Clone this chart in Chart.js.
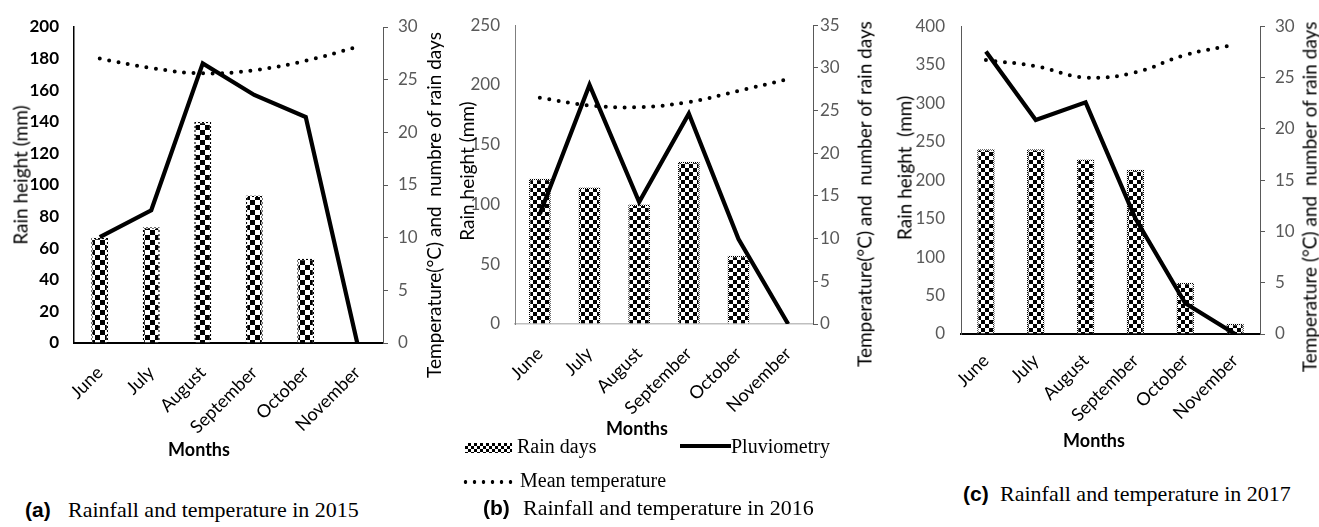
<!DOCTYPE html>
<html><head><meta charset="utf-8">
<script src="https://cdn.jsdelivr.net/npm/chart.js@4.4.1/dist/chart.umd.min.js"></script>
<style>
html,body{margin:0;padding:0;background:#fff;}
#wrap{position:relative;width:1319px;height:527px;overflow:hidden;background:#fff;}
#wrap canvas{position:absolute;top:0;}
.t{position:absolute;white-space:nowrap;font-family:Lato,'Noto Sans',sans-serif;font-size:19px;color:#000;line-height:1;}
.rot{transform:translate(-50%,-50%) rotate(-90deg);}
.ctr{transform:translate(-50%,-50%);}
.b{font-weight:bold;font-size:18px;}
.cap{position:absolute;white-space:nowrap;font-family:'Liberation Serif',serif;font-size:22px;color:#000;line-height:1;}
.lbl{position:absolute;white-space:nowrap;font-family:'Liberation Sans',sans-serif;font-weight:bold;font-size:21px;color:#000;line-height:1;}
.leg{position:absolute;white-space:nowrap;font-family:'Liberation Serif',serif;font-size:20px;color:#000;line-height:1;}
.sw{position:absolute;}
</style></head>
<body>
<div id="wrap">
  <canvas id="ca" width="445" height="470" style="left:0px"></canvas>
  <canvas id="cb" width="440" height="470" style="left:445px"></canvas>
  <canvas id="cc" width="434" height="470" style="left:885px"></canvas>

  <div class="t rot" style="left:20px;top:175px">Rain height (mm)</div>
  <div class="t rot" style="left:433px;top:205px">Temperature(°C) and&nbsp; numbre of rain days</div>
  <div class="t ctr b" style="left:199px;top:449px">Months</div>
  <div class="lbl" style="left:25px;top:499px">(a)</div>
  <div class="cap" style="left:68px;top:499px">Rainfall and temperature in 2015</div>

  <div class="t rot" style="left:466px;top:171px">Rain height (mm)</div>
  <div class="t rot" style="left:864px;top:194px">Temperature(°C) and&nbsp; number of rain days</div>
  <div class="t ctr b" style="left:637px;top:428px">Months</div>
  <div class="sw" style="left:465px;top:443px;width:47px;height:10px;background-image:repeating-conic-gradient(#000 0% 25%, #fff 0% 50%);background-size:6px 6px;"></div>
  <div class="leg" style="left:517px;top:436px">Rain days</div>
  <div class="sw" style="left:680px;top:444px;width:51px;height:4px;background:#000;"></div>
  <div class="leg" style="left:731px;top:436px">Pluviometry</div>
  <div class="sw" style="left:461px;top:480px;width:54px;height:4px;background:radial-gradient(circle, #000 1.6px, rgba(0,0,0,0) 2.1px) 0 0/9px 4px repeat-x;"></div>
  <div class="leg" style="left:520px;top:470px">Mean temperature</div>
  <div class="lbl" style="left:483px;top:497px">(b)</div>
  <div class="cap" style="left:523px;top:497px">Rainfall and temperature in 2016</div>

  <div class="t rot" style="left:904px;top:168px">Rain height&nbsp; (mm)</div>
  <div class="t rot" style="left:1309px;top:197px">Temperature (°C) and&nbsp; number of rain days</div>
  <div class="t ctr b" style="left:1094px;top:440px">Months</div>
  <div class="lbl" style="left:963px;top:483px">(c)</div>
  <div class="cap" style="left:1000px;top:483px">Rainfall and temperature in 2017</div>
</div>
<script>
// ---- data ----
const months = ['June', 'July', 'August', 'September', 'October', 'November'];

const rainDays2015 = [10, 11, 21, 14, 8, 0];
const pluvio2015   = [67, 84, 177, 157, 143, 0];
const temp2015     = [27.0, 26.1, 25.6, 25.9, 26.8, 28.1];

const rainDays2016 = [17, 16, 14, 19, 8, 0];
const pluvio2016   = [92, 200, 102, 176, 71, 0];
const temp2016     = [26.5, 25.6, 25.4, 26.0, 27.3, 28.7];

const rainDays2017 = [18, 18, 17, 16, 5, 1];
const pluvio2017   = [367, 278, 301, 150, 40, 0];
const temp2017     = [26.7, 26.1, 25.0, 25.5, 27.2, 28.2];

const leftTicks2015 = {max: 200, step: 20};
const leftTicks2016 = {max: 250, step: 50};
const leftTicks2017 = {max: 400, step: 50};
const rightTicks2015 = {max: 30, step: 5};
const rightTicks2016 = {max: 35, step: 5};
const rightTicks2017 = {max: 30, step: 5};

Chart.defaults.font.family = "Lato, 'Noto Sans', sans-serif";
Chart.defaults.font.size = 17;

function checker(ctx, cell) {
  const c = document.createElement('canvas');
  c.width = c.height = cell * 2;
  const x = c.getContext('2d');
  x.fillStyle = '#fff'; x.fillRect(0, 0, cell * 2, cell * 2);
  x.fillStyle = '#000'; x.fillRect(0, 0, cell, cell); x.fillRect(cell, cell, cell, cell);
  return ctx.createPattern(c, 'repeat');
}

function build(id, p) {
  const ctx = document.getElementById(id).getContext('2d');
  return new Chart(ctx, {
    type: 'bar',
    data: {
      labels: months,
      datasets: [
        {type: 'line', label: 'Mean temperature', data: p.temp, yAxisID: 'y1',
         borderColor: '#000', borderWidth: 4, borderDash: [0, 9.5], borderCapStyle: 'round',
         tension: 0.4, pointRadius: 0, fill: false, order: 0},
        {type: 'line', label: 'Pluviometry', data: p.rain, yAxisID: 'y',
         borderColor: '#000', borderWidth: 4.2, tension: 0, pointRadius: 0, fill: false,
         borderJoinStyle: 'miter', order: 1},
        {type: 'bar', label: 'Rain days', data: p.days, yAxisID: 'y1',
         backgroundColor: checker(ctx, p.cell), borderColor: checker(ctx, p.bcell), borderWidth: 1.5,
         barPercentage: p.bar, categoryPercentage: 1, order: 2}
      ]
    },
    options: {
      responsive: false, animation: false, devicePixelRatio: 1,
      layout: {padding: {top: p.top, left: 0, right: 0, bottom: 0}},
      plugins: {legend: {display: false}, tooltip: {enabled: false}},
      scales: {
        x: {
          grid: {display: true, drawOnChartArea: false, drawTicks: false},
          border: {color: p.xColor, width: p.xWidth},
          ticks: {autoSkip: false, minRotation: 45, maxRotation: 45, padding: p.xpad, color: '#000', font: {size: 18}},
          afterFit: s => { s.height = p.xh; }
        },
        y: {
          position: 'left', min: 0, max: p.left.max,
          ticks: {stepSize: p.left.step, padding: p.lpad, color: p.lColor, font: {size: 17, weight: p.lWeight}},
          grid: {display: true, drawOnChartArea: false, drawTicks: false},
          border: {color: p.lBorder, width: p.lBorderW},
          afterFit: s => { s.width = p.lw; }
        },
        y1: {
          position: 'right', min: 0, max: p.right.max,
          ticks: {stepSize: p.right.step, padding: p.rpad, color: '#595959', font: {size: 17}},
          grid: {display: true, drawOnChartArea: false, drawTicks: true, tickLength: 5, color: '#595959'},
          border: {color: '#595959', width: 1},
          afterFit: s => { s.width = p.rw; }
        }
      }
    }
  });
}

build('ca', {days: rainDays2015, rain: pluvio2015, temp: temp2015, left: leftTicks2015, right: rightTicks2015,
  top: 27, lw: 74, rw: 62, xh: 127, bar: 0.33, cell: 5, bcell: 2, xpad: 19,
  xColor: '#000', xWidth: 2, lBorder: '#000', lBorderW: 1.5, lColor: '#000', lWeight: 'bold', lpad: 15, rpad: 10});

build('cb', {days: rainDays2016, rain: pluvio2016, temp: temp2016, left: leftTicks2016, right: rightTicks2016,
  top: 18, lw: 70, rw: 72, xh: 146, bar: 0.44, cell: 4, bcell: 1, xpad: 19,
  xColor: '#bfbfbf', xWidth: 1.5, lBorder: '#7f7f7f', lBorderW: 1, lColor: '#595959', lWeight: 'normal', lpad: 15, rpad: 2});

build('cc', {days: rainDays2017, rain: pluvio2017, temp: temp2017, left: leftTicks2017, right: rightTicks2017,
  top: 19, lw: 76, rw: 59, xh: 136, bar: 0.35, cell: 4, bcell: 1, xpad: 16,
  xColor: '#000', xWidth: 2, lBorder: '#595959', lBorderW: 1, lColor: '#595959', lWeight: 'normal', lpad: 16, rpad: 10});
</script>
</body></html>
